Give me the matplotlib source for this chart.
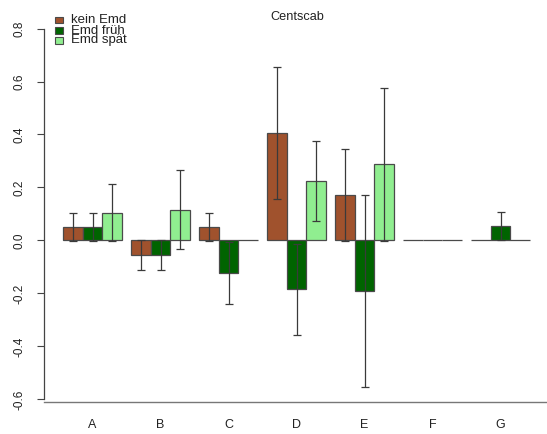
import numpy as np
import matplotlib
matplotlib.use("Agg")
import matplotlib.pyplot as plt
from matplotlib.patches import Rectangle

plt.rcParams['font.family'] = ['Liberation Sans', 'DejaVu Sans']

# mean effect per site and treatment, with standard errors
groups = ["A", "B", "C", "D", "E", "F", "G"]
series_names = ["kein Emd", "Emd früh", "Emd spät"]
kein_emd = [0.05, -0.055, 0.052, 0.405, 0.172, 0.0, 0.0]
emd_frueh = [0.05, -0.055, -0.123, -0.185, -0.191, 0.0, 0.053]
emd_spaet = [0.105, 0.116, 0.0, 0.224, 0.287, 0.0, 0.0]
se_kein = [0.053, 0.055, 0.053, 0.25, 0.174, 0.0, 0.0]
se_frueh = [0.053, 0.055, 0.116, 0.172, 0.363, 0.0, 0.053]
se_spaet = [0.107, 0.15, 0.0, 0.152, 0.29, 0.0, 0.0]

colors = ["#A0522D", "#006400", "#90EE90"]
W, H = 547, 434

fig = plt.figure(figsize=(W / 100, H / 100), dpi=100)
ax = fig.add_axes([44 / W, (H - 402) / H, (W - 44) / W, (402 - 10) / H])

# R-style grouped bars: width 1, half a bar of space between groups
width = 1.0
starts = 1 + 3.5 * np.arange(len(groups))
means = [kein_emd, emd_frueh, emd_spaet]
errs = [se_kein, se_frueh, se_spaet]
for k in range(3):
    x = starts + k * width + width / 2
    m = np.array(means[k])
    e = np.array(errs[k])
    ax.bar(x, m, width=width, color=colors[k], edgecolor="#4a4a4a",
           linewidth=0.9, zorder=2)
    has_err = e > 0
    ax.errorbar(x[has_err], m[has_err], yerr=e[has_err], fmt="none",
                ecolor="#3a3a3a", elinewidth=0.9, capsize=3, capthick=0.9,
                zorder=3)

ax.set_xlim(0, (W - 44) / 19.43)
ax.set_ylim(-0.61, 0.87)

ax.set_xticks(starts + 1.5 * width)
ax.set_xticklabels(groups, fontsize=9, color="#222222")
ax.tick_params(axis="x", length=0, pad=12)

yt = [-0.6, -0.4, -0.2, 0.0, 0.2, 0.4, 0.6, 0.8]
ax.set_yticks(yt)
ax.set_yticklabels([f"{v:.1f}" for v in yt], rotation=90, va="center",
                   fontsize=8.5, color="#222222")
ax.tick_params(axis="y", length=5, width=0.8, color="#444444", pad=8)

for s in ["top", "right"]:
    ax.spines[s].set_visible(False)
ax.spines["left"].set_bounds(-0.6, 0.8)
ax.spines["left"].set_color("#444444")
ax.spines["left"].set_linewidth(0.9)
ax.spines["bottom"].set_color("#777777")
ax.spines["bottom"].set_linewidth(1.0)

fig.text(297 / W, 1 - 17 / H, "Centscab", ha="center", va="center",
         fontsize=9.2, color="#222222")

# compact legend in the upper left corner
row_y = [20, 30.5, 40.5]
for name, c, yy in zip(series_names, colors, row_y):
    fig.patches.append(Rectangle((55 / W, 1 - (yy + 3) / H), 8 / W, 6 / H,
                                 transform=fig.transFigure, facecolor=c,
                                 edgecolor="#4a4a4a", linewidth=0.8))
    fig.text(71 / W, 1 - yy / H, name, ha="left", va="center",
             fontsize=9.5, color="#222222")

fig.savefig("out.png", dpi=100)
